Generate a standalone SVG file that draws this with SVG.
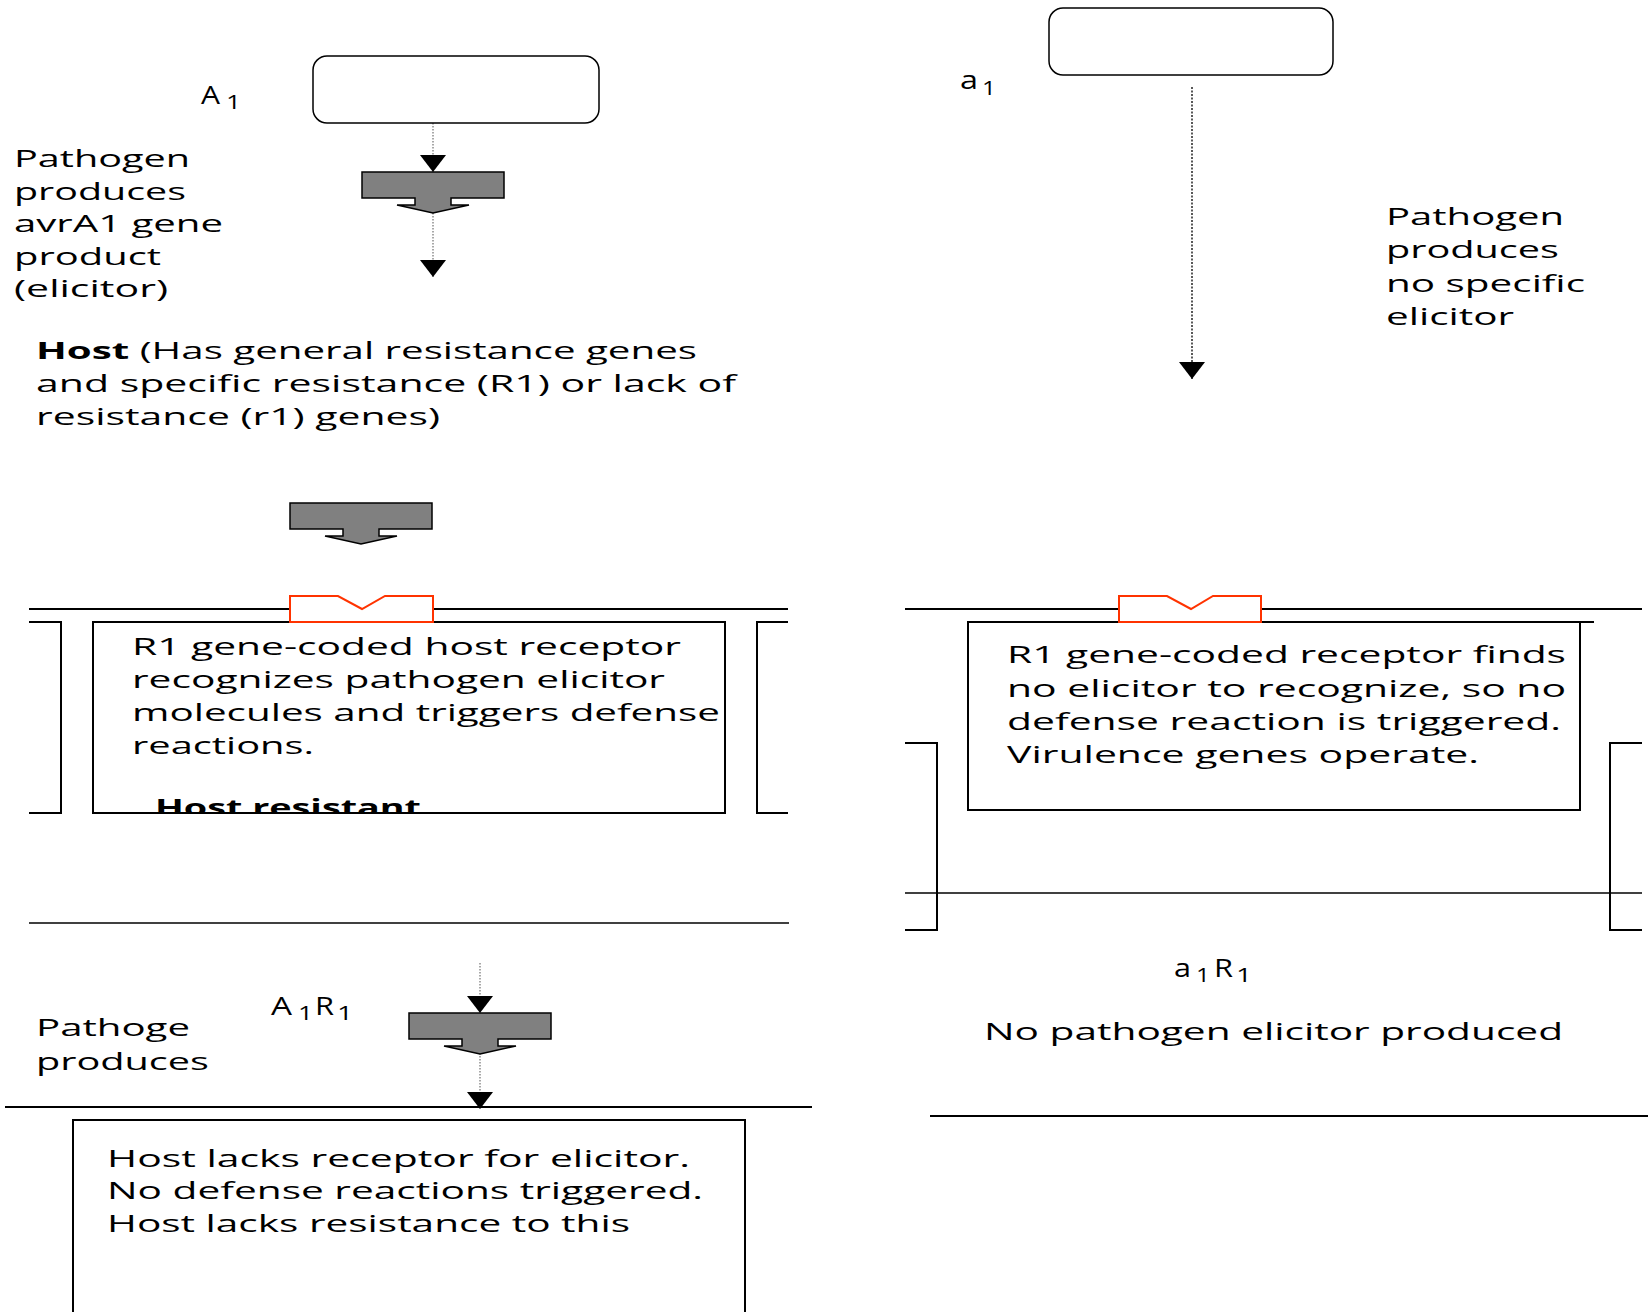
<svg xmlns="http://www.w3.org/2000/svg" width="1648" height="1312" viewBox="0 0 1648 1312">
<style>
.t{font-family:"Open Sans","Liberation Sans",sans-serif;font-size:24px;fill:#000}
.b{font-weight:bold}
.lab{font-size:26px}
.sub{font-size:20px}
.ln{stroke:#000;stroke-width:2;fill:none}
.thin{stroke:#000;stroke-width:1.5;fill:none}
.red{stroke:#ff3300;stroke-width:2;fill:#fff}
.blk{fill:#808080;stroke:#000;stroke-width:1.5}
.dot{stroke:#8c8c8c;stroke-width:1.5;stroke-dasharray:1.5 1.5;fill:none}
.dotd{stroke:#222;stroke-width:1.5;stroke-dasharray:2 1.5;fill:none}
.rr{fill:#fff;stroke:#000;stroke-width:1.5}
</style>
<defs>
<marker id="tri" viewBox="0 0 17 26" refX="17" refY="13" markerWidth="17" markerHeight="26" markerUnits="userSpaceOnUse" orient="auto">
<path d="M0,0 L17,13 L0,26 Z" fill="#000"/>
</marker>
<path id="blockArrow" d="M-71,0 H71 V26 H18 V33 H36 L0,41 L-36,33 H-18 V26 H-71 Z"/>
<clipPath id="clipHR"><rect x="93" y="780" width="400" height="32"/></clipPath>
</defs>
<rect width="1648" height="1312" fill="#fff"/>

<g id="connectors">
<line class="dot" x1="433" y1="123" x2="433" y2="172" marker-end="url(#tri)"/>
<line class="dot" x1="433" y1="213" x2="433" y2="277" marker-end="url(#tri)"/>
<line class="dot" x1="480" y1="963" x2="480" y2="1013" marker-end="url(#tri)"/>
<line class="dot" x1="480" y1="1050" x2="480" y2="1109" marker-end="url(#tri)"/>
<line class="dotd" x1="1192" y1="87" x2="1192" y2="379" marker-end="url(#tri)"/>
</g>

<g id="left-pathogen">
<rect class="rr" x="313" y="56" width="286" height="67" rx="14"/>
<text class="t lab" x="201" y="104" textLength="19" lengthAdjust="spacingAndGlyphs">A</text>
<text class="t sub" x="226" y="109" textLength="15" lengthAdjust="spacingAndGlyphs">1</text>
</g>

<g id="left-arrow1"><use href="#blockArrow" class="blk" transform="translate(433,172)"/></g>

<g id="left-pathogen-text">
<text class="t" x="14" y="167" textLength="176" lengthAdjust="spacingAndGlyphs">Pathogen</text>
<text class="t" x="14" y="200" textLength="172" lengthAdjust="spacingAndGlyphs">produces</text>
<text class="t" x="14" y="232" textLength="209" lengthAdjust="spacingAndGlyphs">avrA1 gene</text>
<text class="t" x="14" y="265" textLength="147" lengthAdjust="spacingAndGlyphs">product</text>
<text class="t" x="14" y="297" textLength="154" lengthAdjust="spacingAndGlyphs">(elicitor)</text>
</g>

<g id="host-text">
<text class="t" x="36" y="359" textLength="661" lengthAdjust="spacingAndGlyphs"><tspan class="b">Host</tspan> (Has general resistance genes</text>
<text class="t" x="36" y="392" textLength="700" lengthAdjust="spacingAndGlyphs">and specific resistance (R1) or lack of</text>
<text class="t" x="36" y="425" textLength="404" lengthAdjust="spacingAndGlyphs">resistance (r1) genes)</text>
</g>

<g id="left-arrow2"><use href="#blockArrow" class="blk" transform="translate(361,503)"/></g>

<g id="left-host-cell">
<line class="ln" x1="29" y1="609" x2="290" y2="609"/>
<line class="ln" x1="433" y1="609" x2="788" y2="609"/>
<path class="ln" d="M29,622 H61 V813 H29"/>
<path class="ln" d="M788,622 H757 V813 H788"/>
<rect class="ln" x="93" y="622" width="632" height="191"/>
<path class="red" d="M290,596 H338 L362,609 L385,596 H433 V622 H290 Z"/>
<text class="t" x="132" y="655" textLength="549" lengthAdjust="spacingAndGlyphs">R1 gene-coded host receptor</text>
<text class="t" x="132" y="688" textLength="533" lengthAdjust="spacingAndGlyphs">recognizes pathogen elicitor</text>
<text class="t" x="132" y="721" textLength="588" lengthAdjust="spacingAndGlyphs">molecules and triggers defense</text>
<text class="t" x="132" y="754" textLength="182" lengthAdjust="spacingAndGlyphs">reactions.</text>
<text class="t b" x="155" y="816" textLength="266" lengthAdjust="spacingAndGlyphs" clip-path="url(#clipHR)">Host resistant</text>
<line class="thin" x1="29" y1="923" x2="789" y2="923"/>
</g>

<g id="left-bottom">
<text class="t lab" x="271" y="1015" textLength="21" lengthAdjust="spacingAndGlyphs">A</text>
<text class="t sub" x="298" y="1020" textLength="15" lengthAdjust="spacingAndGlyphs">1</text>
<text class="t lab" x="315" y="1015" textLength="19" lengthAdjust="spacingAndGlyphs">R</text>
<text class="t sub" x="337" y="1020" textLength="16" lengthAdjust="spacingAndGlyphs">1</text>
<use href="#blockArrow" class="blk" transform="translate(480,1013)"/>
<text class="t" x="36" y="1036" textLength="154" lengthAdjust="spacingAndGlyphs">Pathoge</text>
<text class="t" x="36" y="1070" textLength="173" lengthAdjust="spacingAndGlyphs">produces</text>
<line class="ln" x1="5" y1="1107" x2="812" y2="1107"/>
<path class="ln" d="M73,1320 V1120 H745 V1320"/>
<text class="t" x="107" y="1167" textLength="583" lengthAdjust="spacingAndGlyphs">Host lacks receptor for elicitor.</text>
<text class="t" x="107" y="1199" textLength="596" lengthAdjust="spacingAndGlyphs">No defense reactions triggered.</text>
<text class="t" x="107" y="1232" textLength="523" lengthAdjust="spacingAndGlyphs">Host lacks resistance to this</text>
</g>

<g id="right-pathogen">
<rect class="rr" x="1049" y="8" width="284" height="67" rx="14"/>
<text class="t lab" x="960" y="89" textLength="18" lengthAdjust="spacingAndGlyphs">a</text>
<text class="t sub" x="982" y="95" textLength="14" lengthAdjust="spacingAndGlyphs">1</text>
<text class="t" x="1386" y="225" textLength="178" lengthAdjust="spacingAndGlyphs">Pathogen</text>
<text class="t" x="1386" y="258" textLength="173" lengthAdjust="spacingAndGlyphs">produces</text>
<text class="t" x="1386" y="292" textLength="199" lengthAdjust="spacingAndGlyphs">no specific</text>
<text class="t" x="1386" y="325" textLength="128" lengthAdjust="spacingAndGlyphs">elicitor</text>
</g>

<g id="right-host-cell">
<line class="ln" x1="905" y1="609" x2="1119" y2="609"/>
<line class="ln" x1="1261" y1="609" x2="1642" y2="609"/>
<rect class="ln" x="968" y="622" width="612" height="188"/>
<line class="ln" x1="1580" y1="622" x2="1594" y2="622"/>
<path class="ln" d="M905,743 H937 V930 H905"/>
<path class="ln" d="M1642,743 H1610 V930 H1642"/>
<line class="thin" x1="905" y1="893" x2="1642" y2="893"/>
<path class="red" d="M1119,596 H1167 L1191,609 L1213,596 H1261 V622 H1119 Z"/>
<text class="t" x="1007" y="663" textLength="559" lengthAdjust="spacingAndGlyphs">R1 gene-coded receptor finds</text>
<text class="t" x="1007" y="697" textLength="559" lengthAdjust="spacingAndGlyphs">no elicitor to recognize, so no</text>
<text class="t" x="1007" y="730" textLength="554" lengthAdjust="spacingAndGlyphs">defense reaction is triggered.</text>
<text class="t" x="1007" y="763" textLength="472" lengthAdjust="spacingAndGlyphs">Virulence genes operate.</text>
</g>

<g id="right-bottom">
<text class="t lab" x="1174" y="977" textLength="17" lengthAdjust="spacingAndGlyphs">a</text>
<text class="t sub" x="1196" y="982" textLength="14" lengthAdjust="spacingAndGlyphs">1</text>
<text class="t lab" x="1214" y="977" textLength="19" lengthAdjust="spacingAndGlyphs">R</text>
<text class="t sub" x="1236" y="982" textLength="16" lengthAdjust="spacingAndGlyphs">1</text>
<text class="t" x="984" y="1040" textLength="579" lengthAdjust="spacingAndGlyphs">No pathogen elicitor produced</text>
<line class="ln" x1="930" y1="1116" x2="1648" y2="1116"/>
</g>
</svg>
